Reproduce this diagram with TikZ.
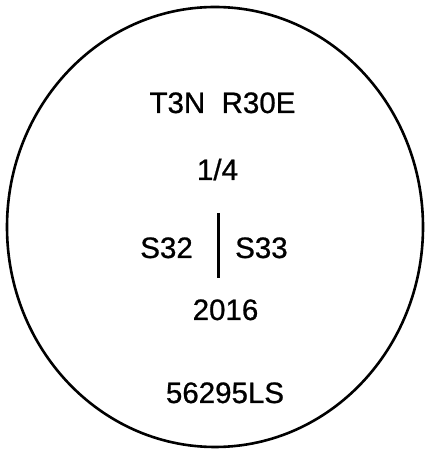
\documentclass[tikz,border=0pt]{standalone}
\usepackage{fontspec}
\setmainfont{Liberation Sans}
\newfontfamily\lblfont[FakeBold=0.8]{Liberation Sans}
\begin{document}
\begin{tikzpicture}[x=1pt,y=1pt,
  lbl/.style={inner sep=0pt,font=\lblfont\fontsize{29.5}{34}\selectfont},
  outline/.style={draw=black,line width=2.6pt}]
\useasboundingbox (0,0) rectangle (425,449);
\draw[outline] (215,222) ellipse [x radius=208, y radius=220];
\node[lbl,anchor=base] (twp) at (222.5,336) {T3N\ \ R30E};
\node[lbl,anchor=base] (qtr) at (217.5,269) {1/4};
\node[lbl,anchor=base east] (sa) at (193,191) {S32};
\node[lbl,anchor=base west] (sb) at (235,191) {S33};
\coordinate (ltop) at (218,236);
\coordinate (lbot) at (218,171);
\draw[line width=3pt] (ltop) -- (lbot);
\node[lbl,anchor=base] (yr) at (225.5,129) {2016};
\node[lbl,anchor=base] (id) at (225,46) {56295LS};
\end{tikzpicture}
\end{document}
